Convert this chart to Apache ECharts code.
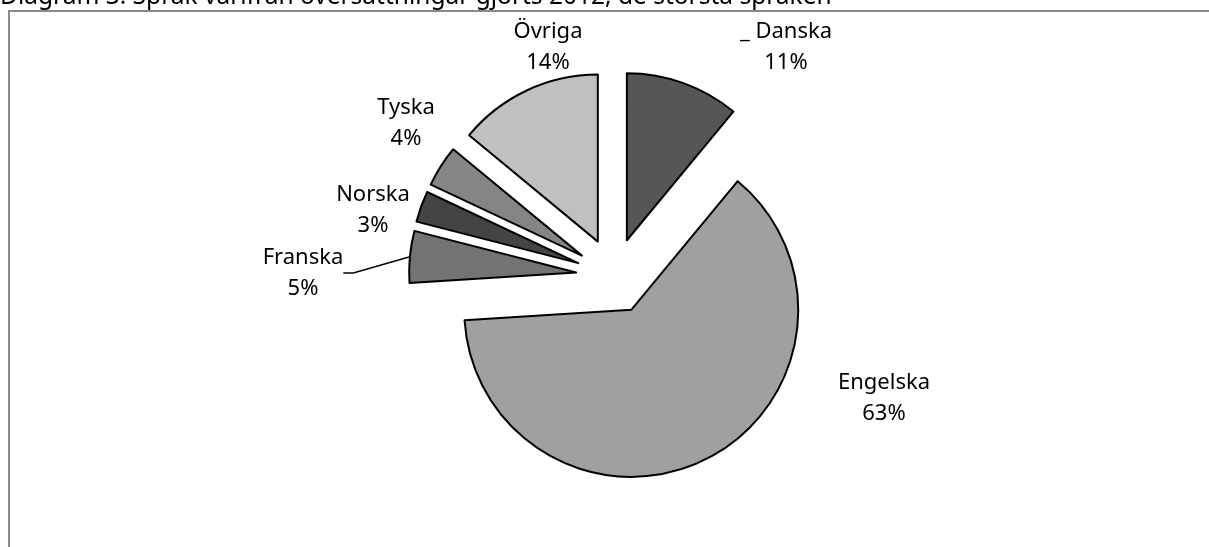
<!DOCTYPE html>
<html>
<head>
<meta charset="utf-8">
<style>
  html, body { margin: 0; padding: 0; background: #fff; }
  #chart { width: 1209px; height: 547px; }
</style>
<script src="https://cdn.jsdelivr.net/npm/echarts@6/dist/echarts.min.js"></script>
</head>
<body>
<div id="chart"></div>
<script>
// språk och andelar (%)
const languages = ['Danska', 'Engelska', 'Franska', 'Norska', 'Tyska', 'Övriga']
const shares = [11, 63, 5, 3, 4, 14]
const sliceColors = ['#565656', '#a0a0a0', '#737373', '#444444', '#858585', '#c0c0c0']
// etikettens mittpunkt för varje skiva
const labelSpots = [[786, 47], [884, 398], [303, 273], [373, 210], [406, 123], [548, 47]]

const pieCenter = [614, 276]
const pieRadius = 167
const explode = 38

const chart = echarts.init(document.getElementById('chart'))

const option = {
  animation: false,
  graphic: [
    {
      type: 'text',
      left: 0,
      top: -15,
      style: {
        text: 'Diagram 3. Språk varifrån översättningar gjorts 2012, de största språken',
        font: '24.5px "Noto Sans"',
        fill: '#000'
      }
    },
    {
      type: 'rect',
      shape: { x: 9, y: 11, width: 1230, height: 560 },
      style: { fill: 'none', stroke: '#8a8a8a', lineWidth: 2 }
    }
  ],
  series: [
    {
      // själva tårtan, alla skivor utdragna
      type: 'pie',
      center: pieCenter,
      radius: [0, pieRadius],
      startAngle: 90,
      clockwise: true,
      selectedMode: 'multiple',
      selectedOffset: explode,
      emphasis: { disabled: true },
      itemStyle: { borderColor: '#000', borderWidth: 2 },
      label: { show: false },
      labelLine: { show: false },
      data: languages.map((name, i) => ({
        name,
        value: shares[i],
        selected: true,
        itemStyle: { color: sliceColors[i] }
      }))
    },
    {
      // osynlig tårta som bara bär etiketterna
      type: 'pie',
      silent: true,
      center: pieCenter,
      radius: [0, pieRadius + explode],
      startAngle: 90,
      clockwise: true,
      z: 3,
      itemStyle: { color: 'rgba(0,0,0,0)', borderWidth: 0 },
      emphasis: { disabled: true },
      label: {
        show: true,
        position: 'outside',
        formatter: p => (p.dataIndex === 0 ? '_ ' : '') + p.name + '\n' + p.value + '%',
        fontFamily: 'Noto Sans',
        fontSize: 22,
        lineHeight: 31,
        color: '#000',
        align: 'center'
      },
      labelLine: {
        show: true,
        length: 10,
        length2: 10,
        lineStyle: { color: '#000', width: 1.5 }
      },
      labelLayout: params => {
        const pos = labelSpots[params.dataIndex]
        return { x: pos[0], y: pos[1], align: 'center', verticalAlign: 'middle' }
      },
      data: languages.map((name, i) => ({
        name,
        value: shares[i],
        labelLine: { show: name === 'Franska' }
      }))
    }
  ]
}

chart.setOption(option)
</script>
</body>
</html>
